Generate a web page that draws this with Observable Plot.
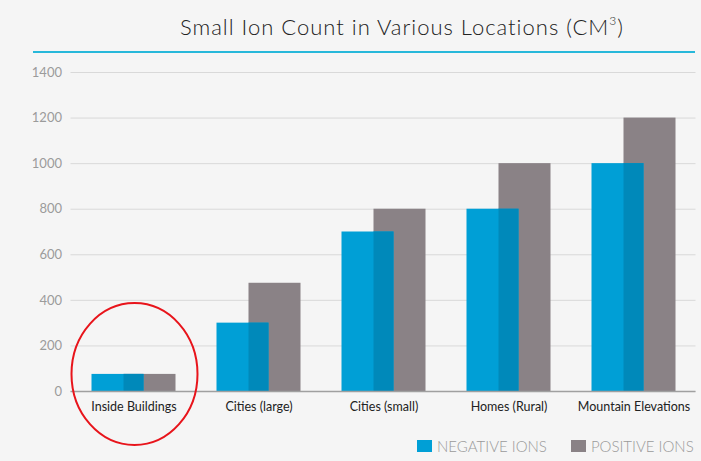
<!DOCTYPE html>
<html>
<head>
<meta charset="utf-8">
<script src="https://cdn.jsdelivr.net/npm/d3@7"></script>
<script src="https://cdn.jsdelivr.net/npm/@observablehq/plot@0.6"></script>
<style>
  html, body { margin: 0; padding: 0; background: #f5f5f5; }
  #wrap { position: relative; width: 701px; height: 461px; overflow: hidden; background: #f5f5f5; font-family: Lato, "Open Sans", sans-serif; }
  #title { position: absolute; left: 0; top: 13px; width: 701px; text-align: left; padding-left: 180px; box-sizing: border-box; font-family: Lato, "Open Sans", sans-serif; font-size: 22px; letter-spacing: 1px; font-weight: 300; color: #222; white-space: nowrap; }
  #title sup { font-size: 12px; position: relative; top: -2px; }
  #rule { position: absolute; left: 33px; top: 51px; width: 662px; height: 2px; background: #27b8da; }
  #chart { position: absolute; left: 0; top: 53px; }
  #legend { position: absolute; top: 437px; left: 417px; display: flex; align-items: center; font-size: 15px; color: #9a9a9a; font-weight: 300; white-space: nowrap; }
  .sw { display: inline-block; width: 15px; height: 12px; margin-right: 5px; flex: none; }
  .item { display: flex; align-items: center; margin-right: 24px; white-space: nowrap; }
</style>
</head>
<body>
<div id="wrap">
  <div id="title">Small Ion Count in Various Locations (CM<sup>3</sup>)</div>
  <div id="rule"></div>
  <div id="chart"></div>
  <div id="legend"></div>
</div>
<script>
const locations = ["Inside Buildings", "Cities (large)", "Cities (small)", "Homes (Rural)", "Mountain Elevations"];
const negative = [75, 300, 700, 800, 1000];
const positive = [75, 475, 800, 1000, 1200];
const yTicks = [0, 200, 400, 600, 800, 1000, 1200, 1400];
const seriesNames = ["NEGATIVE IONS", "POSITIVE IONS"];
const seriesColors = ["#009fd6", "#8a8286"];
const overlapColor = "#0089ba";
const highlighted = "Inside Buildings";

const rows = locations.map((loc, i) => ({loc, neg: negative[i], pos: positive[i], both: Math.min(negative[i], positive[i])}));

const highlightMark = (index, scales, values, dimensions) => {
  const bw = typeof scales.x.bandwidth === "function" ? scales.x.bandwidth() : scales.x.bandwidth;
  const x = scales.x(highlighted) + bw / 2 + 1;
  const y = scales.y(0) - 17;
  return d3.create("svg:g").call(g => g.append("ellipse")
      .attr("cx", x).attr("cy", y).attr("rx", 63).attr("ry", 71)
      .attr("fill", "none").attr("stroke", "#e8141b").attr("stroke-width", 2)).node();
};

const chart = Plot.plot({
  width: 701,
  height: 408,
  marginLeft: 70.5,
  marginRight: 5.5,
  marginTop: 19,
  marginBottom: 70,
  style: {background: "transparent", overflow: "visible", fontFamily: "Lato, 'Open Sans', sans-serif"},
  x: {domain: locations, padding: 0, label: null},
  y: {domain: [0, 1400], label: null},
  marks: [
    Plot.gridY(yTicks, {stroke: "#d9d9d9", strokeOpacity: 1, strokeWidth: 1}),
    Plot.axisY(yTicks, {tickSize: 0, tickPadding: 9, fontSize: 13, fill: "#9b9b9b", label: null, tickFormat: d => String(d)}),
    Plot.axisX({tickSize: 0, tickPadding: 11, fontSize: 12.5, fill: "#222", label: null}),
    Plot.barY(rows, {x: "loc", y: "pos", fill: seriesColors[1], insetLeft: 52.5, insetRight: 20.5}),
    Plot.barY(rows, {x: "loc", y: "neg", fill: seriesColors[0], insetLeft: 20.5, insetRight: 52.5}),
    Plot.barY(rows, {x: "loc", y: "both", fill: overlapColor, insetLeft: 52.5, insetRight: 52.5}),
    Plot.ruleY([0], {stroke: "#a0a0a0", strokeWidth: 1.5}),
    highlightMark
  ]
});
document.getElementById("chart").appendChild(chart);

const legend = document.getElementById("legend");
seriesNames.forEach((name, i) => {
  const item = document.createElement("div");
  item.className = "item";
  item.innerHTML = `<span class="sw" style="background:${seriesColors[i]}"></span><span>${name}</span>`;
  legend.appendChild(item);
});
</script>
</body>
</html>
